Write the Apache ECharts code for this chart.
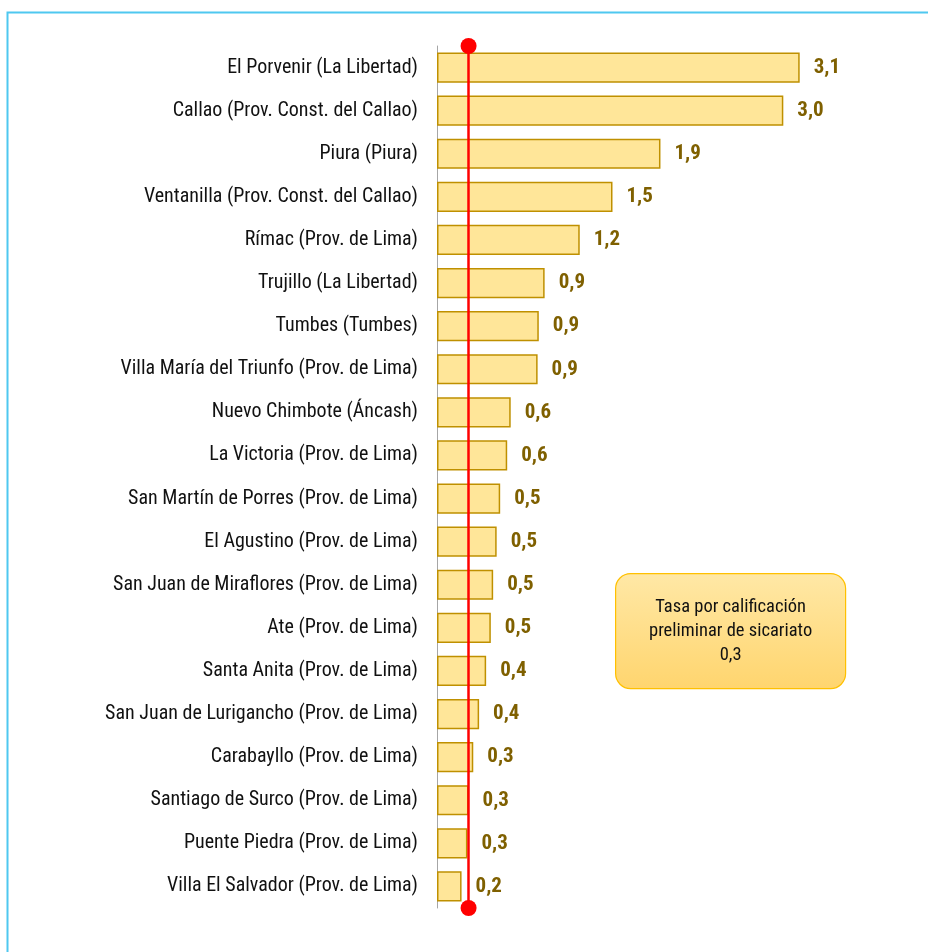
<!DOCTYPE html>
<html>
<head>
<meta charset="utf-8">
<script src="https://cdn.jsdelivr.net/npm/echarts@6/dist/echarts.min.js"></script>
<style>
  html, body { margin: 0; padding: 0; background: #fff; }
  #chart { width: 928px; height: 952px; }
</style>
</head>
<body>
<div id="chart"></div>
<script>
// distritos, de mayor a menor tasa
const categorias = [
    'El Porvenir (La Libertad)',
    'Callao (Prov. Const. del Callao)',
    'Piura (Piura)',
    'Ventanilla (Prov. Const. del Callao)',
    'Rímac (Prov. de Lima)',
    'Trujillo (La Libertad)',
    'Tumbes (Tumbes)',
    'Villa María del Triunfo (Prov. de Lima)',
    'Nuevo Chimbote (Áncash)',
    'La Victoria (Prov. de Lima)',
    'San Martín de Porres (Prov. de Lima)',
    'El Agustino (Prov. de Lima)',
    'San Juan de Miraflores (Prov. de Lima)',
    'Ate (Prov. de Lima)',
    'Santa Anita (Prov. de Lima)',
    'San Juan de Lurigancho (Prov. de Lima)',
    'Carabayllo (Prov. de Lima)',
    'Santiago de Surco (Prov. de Lima)',
    'Puente Piedra (Prov. de Lima)',
    'Villa El Salvador (Prov. de Lima)'
];

const tasas = [3.10, 2.96, 1.91, 1.50, 1.22, 0.92, 0.87, 0.86, 0.63, 0.60,
               0.54, 0.51, 0.48, 0.46, 0.42, 0.36, 0.31, 0.27, 0.26, 0.21];

// tasa nacional de referencia
const tasaReferencia = 0.27;
const textoReferencia = 'Tasa por calificación\npreliminar de sicariato\n0,3';

const FONT = "'Liberation Sans Narrow', 'Arial Narrow', 'Roboto Condensed', 'Liberation Sans', sans-serif";

function fmt(v) {
    return v.toFixed(1).replace('.', ',');
}

const chart = echarts.init(document.getElementById('chart'));

const option = {
    backgroundColor: '#ffffff',
    animation: false,
    grid: { left: 437, right: 23, top: 46, bottom: 44 },
    xAxis: {
        type: 'value',
        min: 0,
        max: 4,
        show: false
    },
    yAxis: {
        type: 'category',
        inverse: true,
        data: categorias,
        axisLine: { show: true, lineStyle: { color: '#a6a6a6', width: 1 } },
        axisTick: { show: false },
        axisLabel: {
            color: '#111',
            fontFamily: FONT,
            fontSize: 20,
            margin: 19,
            padding: [4, 0, 0, 0]
        }
    },
    series: [{
        type: 'bar',
        data: tasas,
        barCategoryGap: '30%',
        itemStyle: {
            color: '#FFE699',
            borderColor: '#BF9000',
            borderWidth: 1.5
        },
        label: {
            show: true,
            position: 'right',
            distance: 14,
            color: '#7F6000',
            fontWeight: 'bold',
            fontFamily: FONT,
            fontSize: 21,
            padding: [5, 0, 0, 0],
            formatter: p => fmt(p.value)
        },
        markLine: {
            silent: true,
            symbol: ['circle', 'circle'],
            symbolSize: 16,
            label: { show: false },
            lineStyle: { color: '#FF0000', width: 2.5, type: 'solid' },
            itemStyle: { color: '#FF0000' },
            data: [{ xAxis: tasaReferencia }]
        }
    }],
    graphic: [
        {
            type: 'rect',
            left: 5,
            top: 10,
            shape: { width: 940, height: 960 },
            style: { fill: 'none', stroke: '#4FC8F0', lineWidth: 2 },
            silent: true
        },
        {
            type: 'group',
            left: 615,
            top: 573,
            children: [
                {
                    type: 'rect',
                    shape: { x: 0, y: 0, width: 230, height: 115, r: 15 },
                    style: {
                        fill: new echarts.graphic.LinearGradient(0, 0, 0, 1, [
                            { offset: 0, color: '#FFE8A6' },
                            { offset: 1, color: '#FFD56E' }
                        ]),
                        stroke: '#FFC000',
                        lineWidth: 1.2
                    }
                },
                {
                    type: 'text',
                    x: 115,
                    y: 58,
                    style: {
                        text: textoReferencia,
                        align: 'center',
                        verticalAlign: 'middle',
                        fill: '#111',
                        font: '18.5px ' + FONT,
                        lineHeight: 24
                    }
                }
            ]
        }
    ]
};

chart.setOption(option);
</script>
</body>
</html>
